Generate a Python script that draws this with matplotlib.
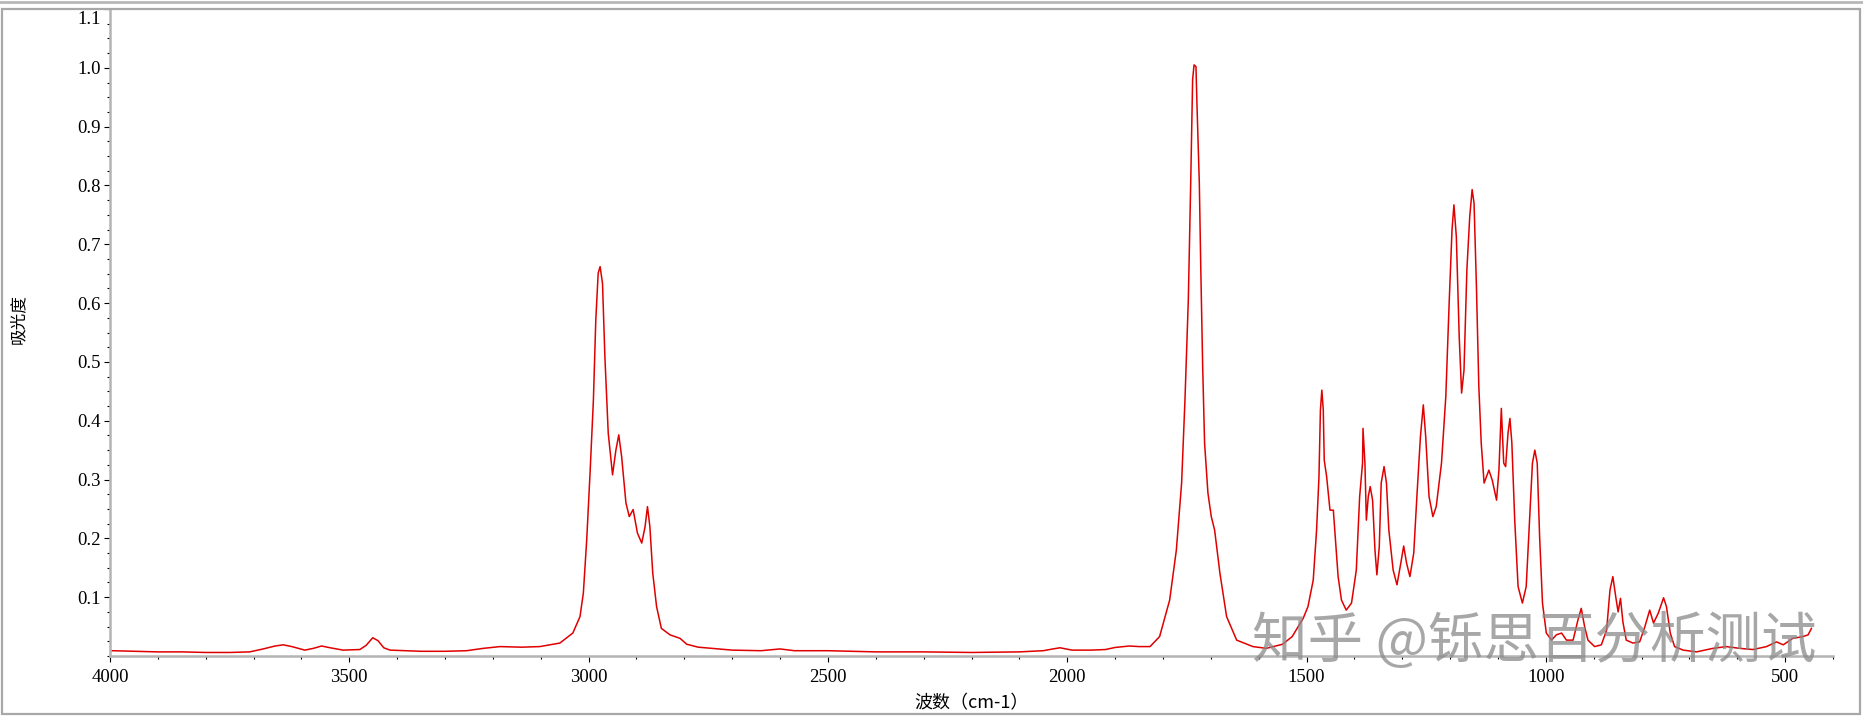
import matplotlib
matplotlib.use("Agg")
import matplotlib.pyplot as plt
from matplotlib.ticker import MultipleLocator, FixedLocator
from matplotlib.patches import Rectangle
from matplotlib.lines import Line2D
from matplotlib.transforms import ScaledTranslation

plt.rcParams['font.family'] = ['Liberation Serif', 'Noto Sans CJK SC', 'DejaVu Sans']

# IR spectrum (wavenumber cm-1, absorbance)
wavenumber = [
    3996, 3950, 3900, 3850, 3800, 3750, 3708, 3680, 3655, 3638, 3620, 3593, 3575, 3558,
    3540, 3513, 3478, 3465, 3451, 3440, 3428, 3415, 3350, 3300, 3255, 3220, 3185, 3140,
    3102, 3060, 3033, 3018, 3011, 3004, 2997, 2990, 2985, 2980, 2976, 2971, 2966, 2959,
    2950, 2943, 2937, 2931, 2922, 2915, 2907, 2898, 2889, 2882, 2877, 2872, 2866, 2858,
    2848, 2830, 2809, 2795, 2771, 2700, 2640, 2600, 2570, 2500, 2400, 2300, 2200, 2100,
    2050, 2030, 2015, 1990, 1950, 1920, 1900, 1870, 1850, 1827, 1807, 1786, 1772, 1761,
    1754, 1747, 1742, 1738, 1735, 1731, 1729, 1724, 1721, 1717, 1713, 1706, 1699, 1692,
    1681, 1667, 1646, 1612, 1584, 1550, 1530, 1507, 1497, 1486, 1479, 1474, 1471, 1468,
    1465, 1463, 1458, 1451, 1444, 1441, 1434, 1427, 1417, 1406, 1396, 1389, 1383, 1382,
    1378, 1375, 1371, 1367, 1362, 1357, 1353, 1348, 1344, 1338, 1333, 1328, 1319, 1311,
    1303, 1297, 1291, 1284, 1276, 1269, 1262, 1256, 1251, 1244, 1236, 1229, 1218, 1209,
    1202, 1196, 1192, 1187, 1181, 1176, 1171, 1165, 1159, 1154, 1150, 1145, 1140, 1135,
    1129, 1119, 1112, 1103, 1098, 1093, 1088, 1084, 1079, 1075, 1071, 1065, 1058, 1049,
    1041, 1034, 1028, 1023, 1018, 1013, 1007, 999, 988, 978, 967, 957, 943, 933,
    926, 919, 912, 898, 884, 873, 866, 860, 854, 849, 844, 839, 832, 818,
    804, 793, 783, 775, 765, 754, 748, 740, 731, 713, 685, 651, 623, 595,
    567, 539, 518, 504, 484, 463, 452, 445,
]
absorbance = [
    0.009, 0.008, 0.007, 0.007, 0.006, 0.006, 0.007, 0.012, 0.017, 0.019, 0.016, 0.010, 0.013, 0.017,
    0.014, 0.010, 0.011, 0.018, 0.031, 0.026, 0.014, 0.010, 0.008, 0.008, 0.009, 0.013, 0.016, 0.015,
    0.016, 0.022, 0.039, 0.067, 0.107, 0.197, 0.311, 0.435, 0.571, 0.651, 0.662, 0.634, 0.509, 0.379,
    0.308, 0.350, 0.376, 0.339, 0.260, 0.237, 0.249, 0.209, 0.192, 0.220, 0.254, 0.220, 0.141, 0.084,
    0.047, 0.036, 0.030, 0.020, 0.015, 0.010, 0.009, 0.012, 0.009, 0.009, 0.007, 0.007, 0.006, 0.007,
    0.009, 0.012, 0.014, 0.010, 0.010, 0.011, 0.0145, 0.017, 0.016, 0.016, 0.033, 0.095, 0.180, 0.294,
    0.435, 0.605, 0.804, 0.980, 1.005, 1.002, 0.940, 0.804, 0.662, 0.492, 0.362, 0.277, 0.237, 0.214,
    0.141, 0.067, 0.027, 0.016, 0.013, 0.020, 0.033, 0.064, 0.084, 0.129, 0.214, 0.305, 0.418, 0.452,
    0.418, 0.333, 0.305, 0.248, 0.248, 0.214, 0.135, 0.095, 0.078, 0.090, 0.146, 0.271, 0.328, 0.387,
    0.328, 0.231, 0.271, 0.288, 0.265, 0.180, 0.138, 0.186, 0.294, 0.322, 0.294, 0.214, 0.146, 0.121,
    0.158, 0.187, 0.158, 0.135, 0.175, 0.277, 0.373, 0.427, 0.373, 0.271, 0.237, 0.254, 0.328, 0.441,
    0.600, 0.725, 0.767, 0.713, 0.543, 0.447, 0.486, 0.656, 0.747, 0.793, 0.770, 0.628, 0.458, 0.362,
    0.294, 0.316, 0.299, 0.265, 0.316, 0.421, 0.328, 0.322, 0.379, 0.404, 0.362, 0.231, 0.118, 0.090,
    0.118, 0.231, 0.328, 0.350, 0.328, 0.203, 0.090, 0.039, 0.027, 0.036, 0.039, 0.027, 0.027, 0.061,
    0.081, 0.050, 0.027, 0.016, 0.019, 0.044, 0.112, 0.135, 0.101, 0.075, 0.098, 0.058, 0.027, 0.022,
    0.024, 0.050, 0.078, 0.056, 0.073, 0.099, 0.084, 0.039, 0.016, 0.010, 0.007, 0.013, 0.016, 0.013,
    0.011, 0.016, 0.024, 0.019, 0.030, 0.033, 0.036, 0.047,
]

x_ticks = [4000, 3500, 3000, 2500, 2000, 1500, 1000, 500]
y_ticks = [0.1, 0.2, 0.3, 0.4, 0.5, 0.6, 0.7, 0.8, 0.9, 1.0, 1.1]

W, H = 1863, 719
fig = plt.figure(figsize=(W / 100, H / 100), dpi=100)

# axes placed in pixel terms
left, right, bottom, top = 110, 1833, 656, 9
ax = fig.add_axes([left / W, (H - bottom) / H, (right - left) / W, (bottom - top) / H])

ax.plot(wavenumber, absorbance, color='#e00000', lw=1.1)

ax.set_xlim(4000, 400)
ax.set_ylim(0, 1.1)

ax.xaxis.set_major_locator(FixedLocator(x_ticks))
ax.xaxis.set_minor_locator(MultipleLocator(100))
ax.yaxis.set_major_locator(FixedLocator(y_ticks))
ax.yaxis.set_minor_locator(MultipleLocator(0.025))
ax.set_xticklabels([str(t) for t in x_ticks])
ax.set_yticklabels(['%.1f' % t for t in y_ticks])

for s in ['top', 'right']:
    ax.spines[s].set_visible(False)
for s in ['left', 'bottom']:
    ax.spines[s].set_color('#b4b4b4')
    ax.spines[s].set_linewidth(1.8)

ax.tick_params(which='major', direction='out', length=4.5, width=0.8, color='black',
               labelsize=13.5, pad=2)
ax.tick_params(which='minor', direction='out', length=2.2, width=0.8, color='black')
ax.tick_params(axis='x', which='major', pad=5)

# top label sits a little below its tick in the original
top_lbl = ax.get_yticklabels()[-1]
top_lbl.set_transform(top_lbl.get_transform() + ScaledTranslation(0, -8 / 100, fig.dpi_scale_trans))

ax.set_xlabel('波数（cm-1）', family=['Noto Sans CJK SC', 'DejaVu Sans'], fontsize=13, labelpad=6)
ax.set_ylabel('吸光度', family=['Noto Sans CJK SC', 'DejaVu Sans'], fontsize=12)
ax.yaxis.set_label_coords(-0.048, 0.52)

# window frame around the chart
fig.add_artist(Rectangle((2 / W, 5 / H), (W - 5) / W, (H - 14) / H, transform=fig.transFigure,
                         fill=False, edgecolor='#a8a8a8', lw=1.6))
fig.add_artist(Line2D([0, 1], [1 - 1.5 / H, 1 - 1.5 / H], transform=fig.transFigure,
                      color='#b8b8b8', lw=2))

# watermark
fig.text(1534 / W, (H - 642) / H, '知乎 @铄思百分析测试', family=['Noto Sans CJK SC', 'DejaVu Sans'],
         fontsize=40, color='#8a8a8a', alpha=0.75, ha='center', va='center')

fig.savefig('out.png', dpi=100)
